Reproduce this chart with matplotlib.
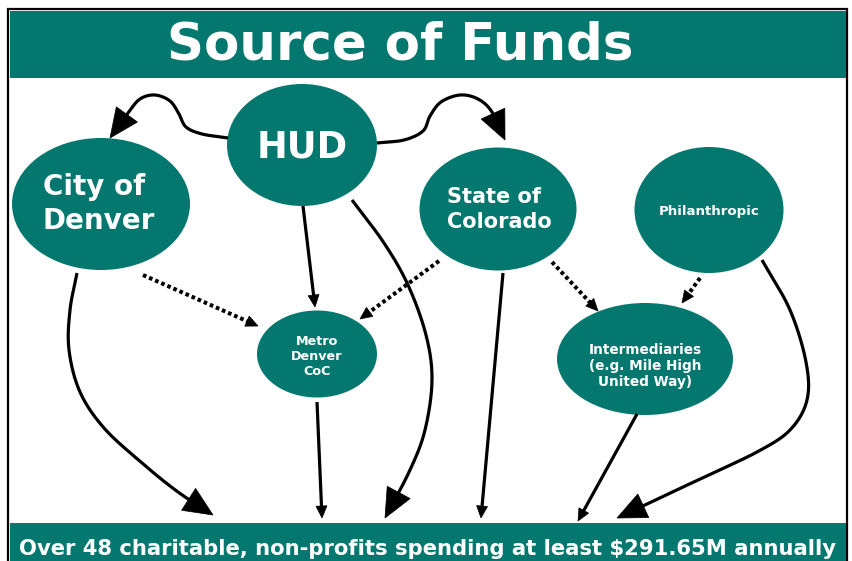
import numpy as np
import matplotlib
matplotlib.use("Agg")
import matplotlib.pyplot as plt
from matplotlib.patches import Ellipse, Rectangle, Polygon

# ---------------- data ----------------
title = "Source of Funds"
footer = "Over 48 charitable, non-profits spending at least $291.65M annually"

node_names = ["city", "hud", "state", "phil", "metro", "inter"]
node_cx = [101, 302, 498, 709, 317, 645]
node_cy = [204, 145, 209, 210, 354, 359]
node_w = [178, 150, 157, 149, 120, 176]
node_h = [132, 122, 123, 126, 87, 112]
node_lines = [["City of", "Denver"], ["HUD"], ["State of", "Colorado"],
              ["Philanthropic"], ["Metro", "Denver", "CoC"],
              ["Intermediaries", "(e.g. Mile High", "United Way)"]]
node_fs = [20, 26.5, 15, 9.6, 9.2, 9.8]
node_tx = [43, 302, 447, 709, 317, 645]
node_ha = ["left", "center", "left", "center", "center", "center"]
node_ty = [[187, 221], [147], [197, 222], [211], [341, 356, 371], [350, 366, 382]]

# edges: waypoint lists (last point = arrow tip), style, head size
edge_paths = [
    [(228, 138), (202, 134), (186, 127), (179, 114), (170, 101), (155, 95), (140, 99), (128, 113), (110, 138)],
    [(377, 143), (404, 140), (423, 131), (430, 116), (441, 102), (460, 95), (478, 99), (492, 112), (505, 140)],
    [(303, 206), (315, 307)],
    [(352, 200), (384, 243), (408, 285), (426, 335), (432, 380), (425, 430), (410, 470), (385, 518)],
    [(77, 273), (70, 310), (69, 350), (80, 392), (104, 428), (142, 463), (178, 492), (213, 515)],
    [(143, 275), (258, 326)],
    [(439, 261), (360, 319)],
    [(552, 262), (598, 311)],
    [(700, 278), (682, 303)],
    [(317, 402), (322, 518)],
    [(503, 273), (481, 518)],
    [(637, 414), (578, 521)],
    [(762, 260), (790, 310), (806, 362), (807, 400), (790, 430), (757, 452), (700, 479), (645, 505), (617, 518)],
]
edge_dotted = [False, False, False, False, False, True, True, True, True, False, False, False, False]
edge_big = [True, True, False, True, True, False, False, False, False, False, False, False, True]

TEAL = "#04776E"

# ---------------- helpers ----------------
def catmull(pts, n=30):
    pts = np.asarray(pts, float)
    if len(pts) == 2:
        t = np.linspace(0, 1, 200)[:, None]
        return pts[0] + (pts[1] - pts[0]) * t
    P = np.vstack([2 * pts[0] - pts[1], pts, 2 * pts[-1] - pts[-2]])
    out = []
    for i in range(1, len(P) - 2):
        p0, p1, p2, p3 = P[i - 1], P[i], P[i + 1], P[i + 2]
        t = np.linspace(0, 1, n, endpoint=False)[:, None]
        seg = 0.5 * ((2 * p1) + (-p0 + p2) * t + (2 * p0 - 5 * p1 + 4 * p2 - p3) * t ** 2
                     + (-p0 + 3 * p1 - 3 * p2 + p3) * t ** 3)
        out.append(seg)
    out.append(P[-2][None, :])
    return np.vstack(out)


def draw_edge(ax, pts, dotted, big):
    curve = catmull(pts)
    tip = curve[-1]
    hl, hw = (29, 13) if big else (12, 5.5)
    d = np.hypot(*(curve - tip).T)
    idx = np.where(d >= hl)[0]
    last = idx[-1]
    base = curve[last]
    u = (tip - base) / np.hypot(*(tip - base))
    base = tip - u * hl
    perp = np.array([-u[1], u[0]])
    line = np.vstack([curve[:last + 1], base + u * 2])
    if dotted:
        ax.plot(line[:, 0], line[:, 1], color="black", lw=2.9,
                linestyle=(0, (0.9, 0.75)), solid_capstyle="butt",
                dash_capstyle="butt", zorder=3)
    else:
        ax.plot(line[:, 0], line[:, 1], color="black", lw=2.3,
                solid_capstyle="butt", zorder=3)
    tri = np.array([tip, base + perp * hw, base - perp * hw])
    ax.add_patch(Polygon(tri, closed=True, facecolor="black", edgecolor="black",
                         lw=0.5, zorder=4))


# ---------------- figure ----------------
fig = plt.figure(figsize=(8.53, 5.61), dpi=100)
ax = fig.add_axes([0, 0, 1, 1])
ax.set_xlim(0, 853)
ax.set_ylim(561, 0)
ax.axis("off")

# frame
ax.add_patch(Rectangle((8, 9), 839, 560, facecolor="white", edgecolor="black", lw=1.6, zorder=0))
# title bar
ax.add_patch(Rectangle((10, 11), 836, 67, facecolor=TEAL, edgecolor="none", zorder=1))
ax.text(400, 45, title, color="white", fontsize=37, fontweight="bold",
        ha="center", va="center", family="DejaVu Sans", zorder=5)
# footer bar
ax.add_patch(Rectangle((10, 523), 836, 40, facecolor=TEAL, edgecolor="none", zorder=1))
ax.text(428, 549, footer, color="white", fontsize=15.2, fontweight="bold",
        ha="center", va="center", family="DejaVu Sans", zorder=5)

# edges
for pts, dot, big in zip(edge_paths, edge_dotted, edge_big):
    draw_edge(ax, pts, dot, big)

# nodes
for i, name in enumerate(node_names):
    ax.add_patch(Ellipse((node_cx[i], node_cy[i]), node_w[i], node_h[i],
                         facecolor=TEAL, edgecolor="none", zorder=2))
    for line, ty in zip(node_lines[i], node_ty[i]):
        ax.text(node_tx[i], ty, line, color="white", fontsize=node_fs[i],
                fontweight="bold", ha=node_ha[i], va="center",
                family="DejaVu Sans", zorder=5)

fig.savefig("out.png", dpi=100)
